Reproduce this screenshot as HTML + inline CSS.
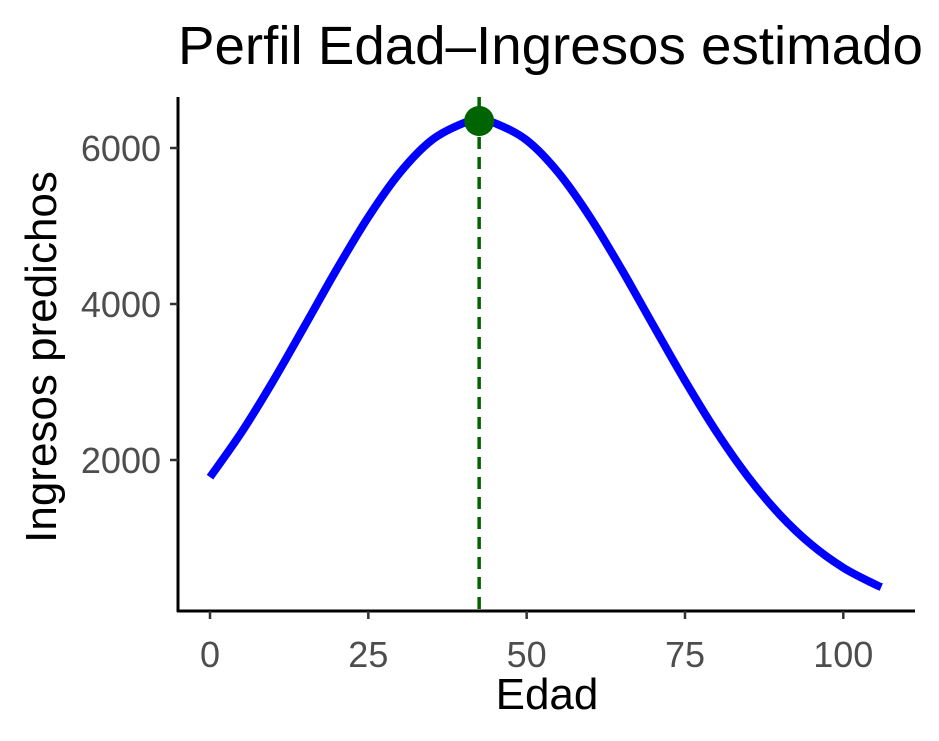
<!DOCTYPE html>
<html><head><meta charset="utf-8"><style>
html,body{margin:0;padding:0;background:#fff;}
svg{display:block;font-family:"Liberation Sans",Arial,sans-serif;}
</style></head><body>
<svg id="chart" width="939" height="741" viewBox="0 0 939 741" xmlns="http://www.w3.org/2000/svg">
<rect width="939" height="741" fill="#fff"/>
<text x="178" y="64" font-size="54" text-anchor="start" fill="#000" textLength="745" lengthAdjust="spacingAndGlyphs">Perfil Edad–Ingresos estimado</text>
<g id="axes"></g>
<g id="marks"></g>
<text x="547" y="709" font-size="44" text-anchor="middle" fill="#000">Edad</text>
<text transform="translate(56,357) rotate(-90)" font-size="44" text-anchor="middle" fill="#000">Ingresos predichos</text>
</svg>
<script>
const ages = [0,5,10,15,20,25,30,35,40,42.5,45,50,55,60,65,70,75,80,85,90,95,100,105,106];
const income = [1780,2358,3017,3726,4443,5115,5685,6100,6318,6346,6318,6100,5685,5115,4443,3726,3017,2358,1780,1297,912,619,406,371];
const peakAge = [42.5];
const peakIncome = [6346];
const xTicks = [0,25,50,75,100];
const yTicks = [2000,4000,6000];

const NS = "http://www.w3.org/2000/svg";
function xs(v){ return 210 + v * 6.333; }
function ys(v){ return 460 - (v - 2000) * 0.078; }
function mk(tag, attrs, parent){
  const e = document.createElementNS(NS, tag);
  for (const k in attrs) e.setAttribute(k, attrs[k]);
  parent.appendChild(e);
  return e;
}
const axes = document.getElementById('axes');
const marks = document.getElementById('marks');

const yl = mk('line',{x1:178,y1:97,x2:178,y2:612,stroke:'#000','stroke-width':3},axes);


const xl = mk('line',{x1:177,y1:611,x2:915,y2:611,stroke:'#000','stroke-width':3},axes);



xTicks.forEach(t=>{
  const x = xs(t);
  const tk = mk('line',{x1:x,y1:611,x2:x,y2:619,stroke:'#333','stroke-width':2.5},axes);
  
  
  const lb = mk('text',{x:x,y:667,'font-size':36,'text-anchor':'middle',fill:'#4d4d4d'},axes);
  lb.textContent = t;
  
  
});
yTicks.forEach(t=>{
  const y = ys(t);
  const tk = mk('line',{x1:170,y1:y,x2:178,y2:y,stroke:'#333','stroke-width':2.5},axes);
  
  
  const lb = mk('text',{x:161,y:y+13,'font-size':36,'text-anchor':'end',fill:'#4d4d4d'},axes);
  lb.textContent = t;
  
  
});

const pts = ages.map((a,i)=>[xs(a), ys(income[i])]);
let d = 'M'+pts[0][0]+','+pts[0][1];
for (let i=0;i<pts.length-1;i++){
  const p0 = pts[i-1]||pts[i], p1=pts[i], p2=pts[i+1], p3=pts[i+2]||pts[i+1];
  const c1x = p1[0]+(p2[0]-p0[0])/6, c1y = p1[1]+(p2[1]-p0[1])/6;
  const c2x = p2[0]-(p3[0]-p1[0])/6, c2y = p2[1]-(p3[1]-p1[1])/6;
  d += ' C'+c1x+','+c1y+' '+c2x+','+c2y+' '+p2[0]+','+p2[1];
}
const line = mk('path',{d:d,fill:'none',stroke:'#0000ff','stroke-width':8},marks);



const vx = xs(peakAge[0]);
const vl = mk('line',{x1:vx,y1:97,x2:vx,y2:611,stroke:'#006400','stroke-width':3.5,'stroke-dasharray':'12 8'},marks);



const pt = mk('circle',{cx:vx,cy:ys(peakIncome[0]),r:15,fill:'#006400'},marks);


</script>
</body></html>
